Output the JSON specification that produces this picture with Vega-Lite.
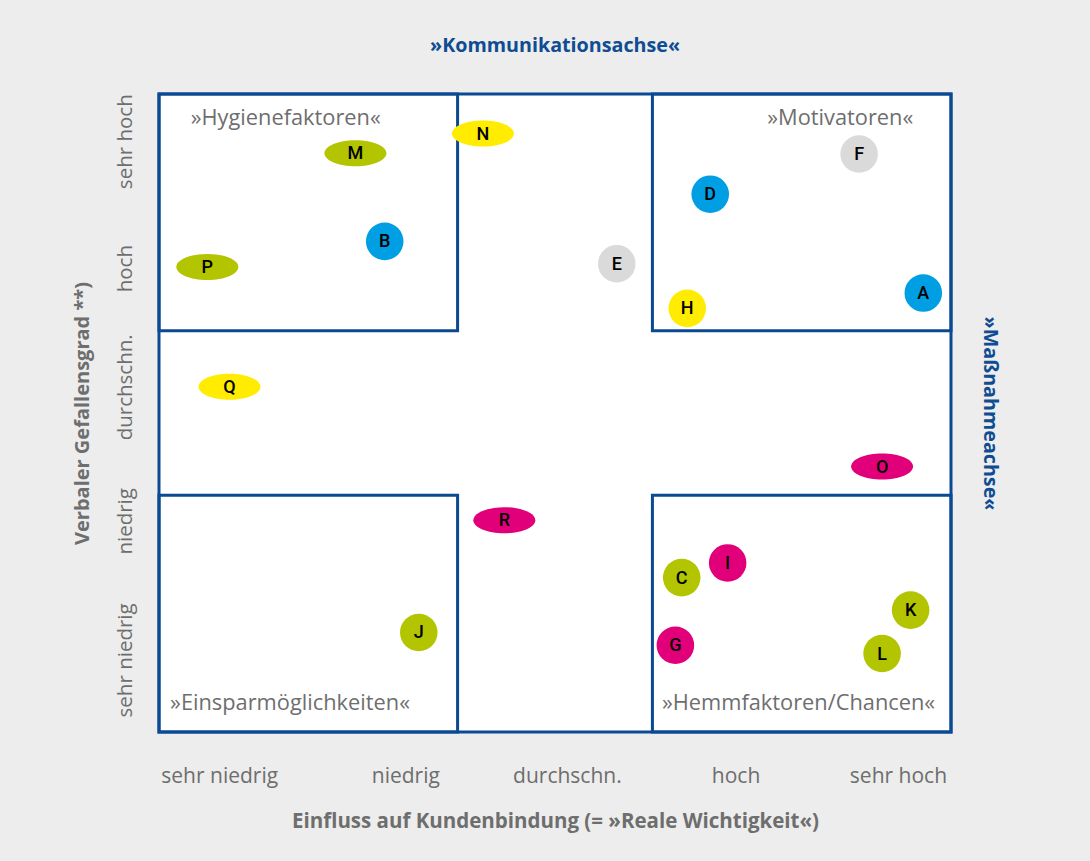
{
  "$schema": "https://vega.github.io/schema/vega-lite/v6.json",
  "width": 792,
  "height": 638,
  "autosize": {"type": "none"},
  "padding": {"left": 159, "top": 94, "right": 139, "bottom": 129},
  "background": "#ECEDEC",
  "title": {
    "text": "»Kommunikationsachse«",
    "anchor": "middle",
    "font": "Open Sans",
    "fontSize": 19.7,
    "fontWeight": "bold",
    "color": "#0F4C92",
    "offset": 37
  },
  "config": {
    "view": {"fill": "white", "stroke": null},
    "font": "Open Sans"
  },
  "datasets": {
    "felder": [
      {"feld": "gesamt", "x1": 0, "x2": 100, "y1": 0, "y2": 100},
      {"feld": "Hygienefaktoren", "x1": 0, "x2": 37.7, "y1": 62.9, "y2": 100},
      {"feld": "Motivatoren", "x1": 62.3, "x2": 100, "y1": 62.9, "y2": 100},
      {"feld": "Einsparmöglichkeiten", "x1": 0, "x2": 37.7, "y1": 0, "y2": 37.1},
      {"feld": "Hemmfaktoren/Chancen", "x1": 62.3, "x2": 100, "y1": 0, "y2": 37.1}
    ],
    "beschriftung": [
      {"text": "»Hygienefaktoren«", "x": 4.0, "y": 95.1},
      {"text": "»Motivatoren«", "x": 76.8, "y": 95.1},
      {"text": "»Einsparmöglichkeiten«", "x": 1.4, "y": 3.45},
      {"text": "»Hemmfaktoren/Chancen«", "x": 63.5, "y": 3.45}
    ],
    "punkte": [
      {"id": "A", "gruppe": "blau", "form": "Kreis", "x": 96.5, "y": 68.8},
      {"id": "B", "gruppe": "blau", "form": "Kreis", "x": 28.5, "y": 76.9},
      {"id": "C", "gruppe": "grün", "form": "Kreis", "x": 66.0, "y": 24.2},
      {"id": "D", "gruppe": "blau", "form": "Kreis", "x": 69.6, "y": 84.3},
      {"id": "E", "gruppe": "grau", "form": "Kreis", "x": 57.8, "y": 73.4},
      {"id": "F", "gruppe": "grau", "form": "Kreis", "x": 88.4, "y": 90.6},
      {"id": "G", "gruppe": "magenta", "form": "Kreis", "x": 65.2, "y": 13.6},
      {"id": "H", "gruppe": "gelb", "form": "Kreis", "x": 66.7, "y": 66.4},
      {"id": "I", "gruppe": "magenta", "form": "Kreis", "x": 71.8, "y": 26.5},
      {"id": "J", "gruppe": "grün", "form": "Kreis", "x": 32.8, "y": 15.6},
      {"id": "K", "gruppe": "grün", "form": "Kreis", "x": 94.9, "y": 19.1},
      {"id": "L", "gruppe": "grün", "form": "Kreis", "x": 91.3, "y": 12.3},
      {"id": "M", "gruppe": "grün", "form": "Ellipse", "x": 24.8, "y": 90.7},
      {"id": "N", "gruppe": "gelb", "form": "Ellipse", "x": 40.9, "y": 93.8},
      {"id": "O", "gruppe": "magenta", "form": "Ellipse", "x": 91.3, "y": 41.6},
      {"id": "P", "gruppe": "grün", "form": "Ellipse", "x": 6.1, "y": 72.9},
      {"id": "Q", "gruppe": "gelb", "form": "Ellipse", "x": 8.9, "y": 54.1},
      {"id": "R", "gruppe": "magenta", "form": "Ellipse", "x": 43.6, "y": 33.2}
    ]
  },
  "resolve": {"axis": {"x": "independent", "y": "independent"}},
  "layer": [
    {
      "data": {"name": "felder"},
      "mark": {"type": "rect", "fillOpacity": 0, "stroke": "#0B4A93", "strokeWidth": 3},
      "encoding": {
        "x": {
          "field": "x1", "type": "quantitative",
          "scale": {"domain": [0, 100], "nice": false, "zero": false},
          "axis": {
            "orient": "bottom",
            "values": [7.6, 31.1, 51.5, 72.8, 93.3],
            "labelExpr": "datum.value < 20 ? 'sehr niedrig' : datum.value < 40 ? 'niedrig' : datum.value < 60 ? 'durchschn.' : datum.value < 80 ? 'hoch' : 'sehr hoch'",
            "ticks": false, "domain": false, "grid": false,
            "labelFlush": false, "labelOverlap": false, "labelBound": false,
            "labelFont": "Open Sans", "labelFontSize": 21, "labelColor": "#6E6E6E",
            "labelBaseline": "alphabetic", "labelPadding": 50,
            "title": "Einfluss auf Kundenbindung (= »Reale Wichtigkeit«)",
            "titleFont": "Open Sans", "titleFontSize": 20.5, "titleFontWeight": "bold",
            "titleColor": "#6E6E6E", "titlePadding": 25
          }
        },
        "x2": {"field": "x2"},
        "y": {
          "field": "y1", "type": "quantitative",
          "scale": {"domain": [0, 100], "nice": false, "zero": false},
          "axis": {
            "orient": "left",
            "values": [11.3, 33.1, 54.1, 72.7, 92.6],
            "labelExpr": "datum.value < 20 ? 'sehr niedrig' : datum.value < 45 ? 'niedrig' : datum.value < 63 ? 'durchschn.' : datum.value < 82 ? 'hoch' : 'sehr hoch'",
            "ticks": false, "domain": false, "grid": false,
            "labelFlush": false, "labelOverlap": false, "labelBound": false,
            "labelAngle": -90, "labelAlign": "center", "labelBaseline": "alphabetic",
            "labelPadding": 28,
            "labelFont": "Open Sans", "labelFontSize": 20.5, "labelColor": "#6E6E6E",
            "title": "Verbaler Gefallensgrad **)",
            "titleFont": "Open Sans", "titleFontSize": 20, "titleFontWeight": "bold",
            "titleColor": "#6E6E6E", "titlePadding": 23
          }
        },
        "y2": {"field": "y2"}
      }
    },
    {
      "data": {"name": "beschriftung"},
      "mark": {"type": "text", "align": "left", "baseline": "alphabetic", "font": "Open Sans", "fontSize": 21.8, "color": "#6E6E6E"},
      "encoding": {
        "x": {"field": "x", "type": "quantitative", "scale": {"domain": [0, 100], "nice": false, "zero": false}, "axis": null},
        "y": {"field": "y", "type": "quantitative", "scale": {"domain": [0, 100], "nice": false, "zero": false}, "axis": null},
        "text": {"field": "text"}
      }
    },
    {
      "data": {"name": "punkte"},
      "mark": {"type": "point", "filled": true, "opacity": 1, "strokeWidth": 0},
      "encoding": {
        "x": {"field": "x", "type": "quantitative", "scale": {"domain": [0, 100], "nice": false, "zero": false}, "axis": null},
        "y": {
          "field": "y", "type": "quantitative",
          "scale": {"domain": [0, 100], "nice": false, "zero": false},
          "axis": {
            "orient": "right", "labels": false, "ticks": false, "domain": false, "grid": false,
            "title": "»Maßnahmeachse«", "titleFont": "Open Sans", "titleFontSize": 19.7,
            "titleFontWeight": "bold", "titleColor": "#0F4C92", "titlePadding": 28
          }
        },
        "color": {
          "field": "gruppe", "type": "nominal", "legend": null,
          "scale": {"domain": ["blau", "grün", "gelb", "magenta", "grau"], "range": ["#009FE3", "#B3C400", "#FFEC00", "#E2007A", "#DADADB"]}
        },
        "shape": {
          "field": "form", "type": "nominal", "legend": null,
          "scale": {"domain": ["Kreis", "Ellipse"], "range": ["circle", "M-1,0A1,0.42,0,1,0,1,0A1,0.42,0,1,0,-1,0Z"]}
        },
        "size": {
          "field": "form", "type": "nominal", "legend": null,
          "scale": {"domain": ["Kreis", "Ellipse"], "range": [1410, 3844]}
        }
      }
    },
    {
      "data": {"name": "punkte"},
      "mark": {"type": "text", "font": "Roboto", "fontWeight": 500, "fontSize": 18, "color": "black", "baseline": "middle", "align": "center", "dy": 1},
      "encoding": {
        "x": {"field": "x", "type": "quantitative", "scale": {"domain": [0, 100], "nice": false, "zero": false}, "axis": null},
        "y": {"field": "y", "type": "quantitative", "scale": {"domain": [0, 100], "nice": false, "zero": false}, "axis": null},
        "text": {"field": "id"}
      }
    }
  ]
}
